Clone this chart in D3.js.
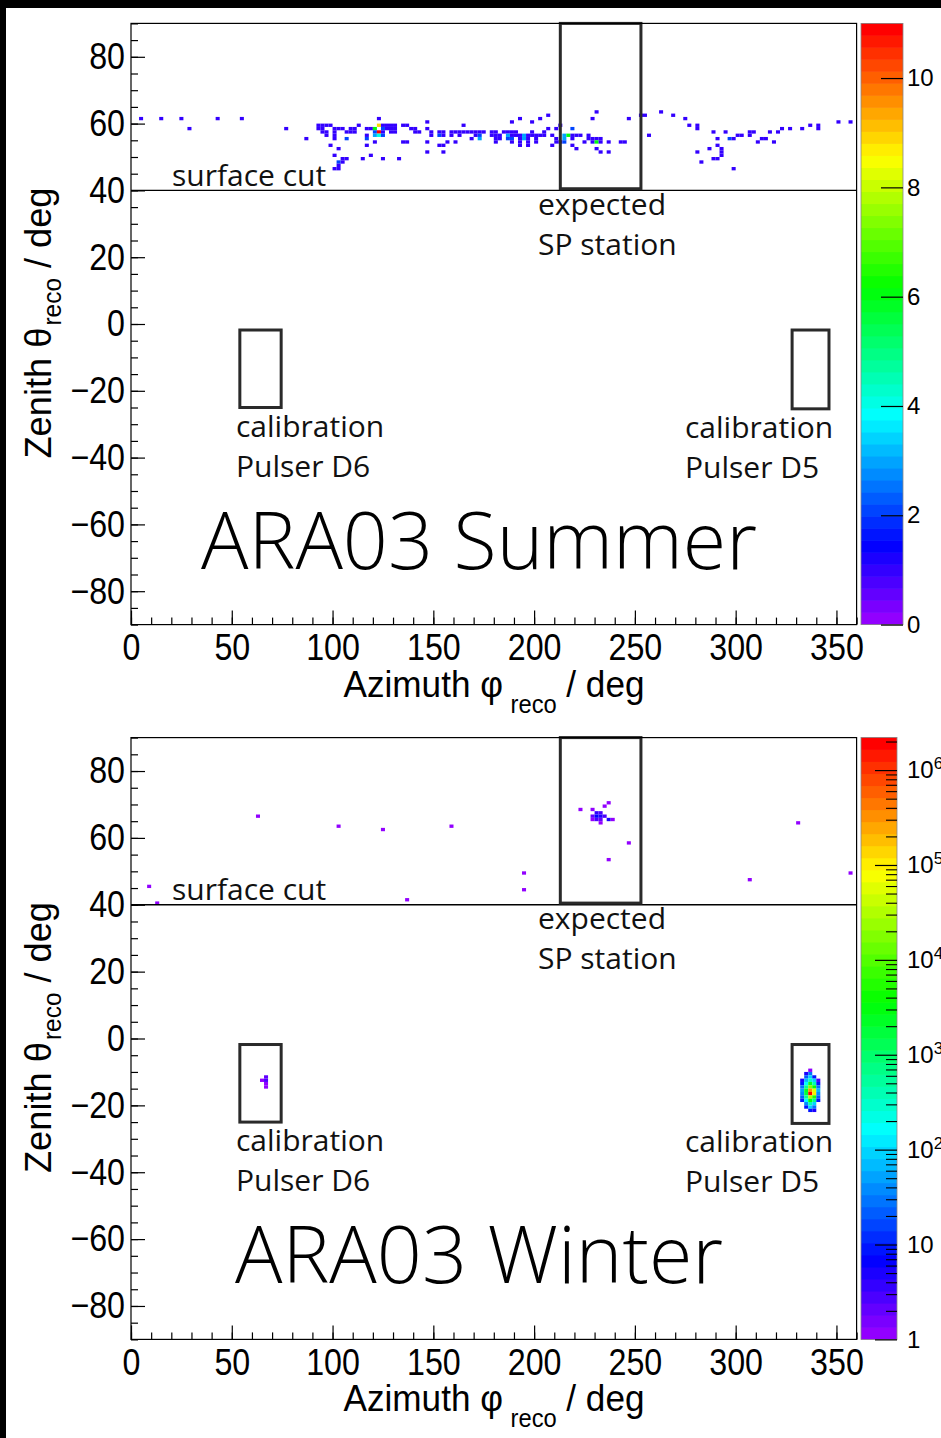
<!DOCTYPE html>
<html><head><meta charset="utf-8">
<script src="https://cdn.jsdelivr.net/npm/d3@7"></script>
<style>html,body{margin:0;padding:0;background:#fff;} svg{display:block}</style>
</head><body><svg id="c" width="941" height="1438"></svg>
<script>
// ---------------- DATA ----------------
const xTickValues = [0, 50, 100, 150, 200, 250, 300, 350];
const yTickValues = [-80, -60, -40, -20, 0, 20, 40, 60, 80];
const panelTitles = ["ARA03 Summer", "ARA03 Winter"];
const surfaceCut = 40;
// boxes in data units [phiMin, phiMax, thetaMin, thetaMax]
const spStationBox = [213, 253, 40.5, 90];
const pulserD6Box = [54, 74.5, -25, -1.8];
const pulserD5Box = [328, 346.3, -25.4, -1.8];
const summerZRange = [0, 11];
const winterZRange = [1, 2.2e6];
const summerColorTicks = [0, 2, 4, 6, 8, 10];
const winterColorTicks = [1, 10, 100, 1e3, 1e4, 1e5, 1e6];
// bins: [phi lower edge (2 deg bins), theta lower edge (1 deg bins), count]
const summerBins = [
 [4,61,1],[14,61,1],[24,61,1],[28,58,1],[42,61,1],[54,61,1],[76,58,1],[86,55,1],
 [122,61,1],[146,60,1],
 [92,59,1],[94,59,1],[96,59,1],[98,59,1],[112,59,1],[122,59,9],[124,59,1],[126,59,1],[128,59,1],[130,59,1],[134,59,1],[136,59,1],[164,59,1],
 [92,58,1],[94,58,1],[100,58,1],[102,58,1],[104,58,1],[108,58,1],[110,58,1],[116,58,1],[118,58,1],[120,58,6],[124,58,2],[126,58,1],[128,58,1],[130,58,1],[138,58,1],[140,58,1],[146,58,1],
 [94,57,1],[96,57,1],[100,57,1],[106,57,1],[108,57,1],[110,57,1],[120,57,2],[122,57,11],[124,57,1],[128,57,1],[130,57,1],[140,57,1],[142,57,1],[148,57,1],[152,57,1],[154,57,1],[158,57,1],[160,57,1],[162,57,1],[164,57,1],[166,57,1],[170,57,1],
 [96,56,1],[100,56,1],[116,56,1],[120,56,3],[122,56,4],[124,56,2],[148,56,1],[152,56,2],[154,56,1],[158,56,1],[162,56,1],
 [100,55,1],[106,55,2],[116,55,2],
 [120,54,1],[134,54,1],[136,54,1],[146,54,1],[156,54,1],[160,54,1],
 [98,53,1],[116,53,1],[152,53,1],[154,53,1],
 [102,52,1],[146,51,1],[154,51,1],[100,50,1],[118,50,1],
 [104,49,1],[106,49,1],[114,49,1],[124,49,1],[132,49,1],
 [102,48,2],[104,48,1],[102,47,1],[100,46,1],[102,46,1],
 [230,63,1],[206,62,1],[252,62,1],[254,62,1],[192,61,1],[202,61,1],[228,61,1],[246,61,1],[188,60,1],[198,60,1],[212,59,1],
 [206,58,1],[210,58,1],[218,58,2],
 [168,57,1],[172,57,1],[174,57,1],[178,57,1],[180,57,1],[184,57,1],[186,57,1],[188,57,1],[190,57,1],[198,57,1],[204,57,1],
 [170,56,1],[172,56,2],[178,56,1],[180,56,1],[182,56,1],[186,56,3],[188,56,1],[190,56,1],[192,56,1],[194,56,3],[196,56,1],[198,56,1],[200,56,1],[202,56,1],[204,56,1],[208,56,1],[214,56,3],[216,56,6],[218,56,1],[220,56,1],[222,56,1],[226,56,1],[256,56,1],
 [168,55,1],[172,55,3],[180,55,1],[182,55,1],[186,55,2],[188,55,2],[192,55,1],[194,55,3],[196,55,1],[200,55,1],[210,55,1],[214,55,3],[218,55,1],[226,55,1],[228,55,1],[230,55,1],[232,55,1],
 [180,54,1],[188,54,1],[192,54,1],[196,54,1],[200,54,1],[210,54,1],[212,54,1],[214,54,2],[224,54,1],[228,54,1],[230,54,6],[232,54,1],[236,54,1],[242,54,1],[244,54,1],
 [192,53,1],[196,53,1],[208,53,1],[218,53,1],[220,52,1],[230,52,1],[232,51,1],[236,51,1],
 [262,63,1],[268,62,1],[274,61,1],[276,59,1],[280,59,1],[280,58,1],[288,57,1],[294,57,1],[290,55,1],[290,53,1],[286,52,1],[292,52,1],[292,51,1],[292,50,1],[288,49,1],[290,49,1],[280,51,1],[282,48,1],[298,46,1],
 [296,55,2],[298,55,1],[300,56,1],[302,56,1],[306,56,1],[306,57,1],[308,57,1],[310,54,1],[312,55,1],[314,55,1],[316,57,1],[318,54,1],[320,57,1],[322,58,1],[326,58,1],[332,58,1],[336,59,1],[340,59,1],[340,58,1],[350,60,1],[356,60,1]
];
const winterBins = [
 [8,45,1],[12,40,1],[62,66,1],[102,63,1],[124,62,1],[158,63,1],[136,41,1],[194,49,1],[194,44,1],
 [222,68,1],[228,68,1],[234,69,1],[236,70,1],
 [230,67,4],[232,67,3],[228,66,2],[230,66,6],[232,66,5],[234,66,3],[228,65,1],[230,65,3],[232,65,2],[236,65,5],[238,65,1],[232,64,1],
 [246,58,1],[236,53,1],[306,47,1],[330,64,1],[356,49,1],
 [66,-12,2],[64,-13,1],[66,-13,3],[66,-14,1],[66,-15,1],
 [336,-10,1],
 [334,-11,5],[336,-11,30],
 [334,-12,20],[336,-12,100],[338,-12,10],
 [332,-13,5],[334,-13,60],[336,-13,300],[338,-13,80],[340,-13,3],
 [332,-14,10],[334,-14,150],[336,-14,2000],[338,-14,400],[340,-14,10],
 [332,-15,30],[334,-15,600],[336,-15,20000],[338,-15,3000],[340,-15,30],
 [332,-16,50],[334,-16,2000],[336,-16,300000],[338,-16,50000],[340,-16,60],
 [332,-17,40],[334,-17,1500],[336,-17,2200000],[338,-17,100000],[340,-17,40],
 [332,-18,20],[334,-18,500],[336,-18,30000],[338,-18,5000],[340,-18,20],
 [332,-19,8],[334,-19,150],[336,-19,3000],[338,-19,800],[340,-19,8],
 [334,-20,40],[336,-20,400],[338,-20,100],
 [334,-21,10],[336,-21,80],[338,-21,30],
 [336,-22,10],[338,-22,5]
];

// ---------------- LAYOUT ----------------
const svg = d3.select("#c");
const W = 941, H = 1438;
const plotL = 131, plotR = 856.6;
const panels = [
  {top: 23.4, bottom: 624.6, off: 0, bins: summerBins, log: false, z: summerZRange, cbR: 903},
  {top: 737.6, bottom: 1339.4, off: 714.4, bins: winterBins, log: true, z: winterZRange, cbR: 897}
];
const NCOL = 50;
const palette = d3.range(NCOL).map(i => d3.hsl(280 - (i + 1) * (280 / NCOL), 1, 0.5).formatHex());
const x = d3.scaleLinear().domain([0, 360]).range([plotL, plotR]);
const tickFont = "'Liberation Sans', Arial, Helvetica, sans-serif";
const annFont = "'Open Sans', 'Noto Sans', sans-serif";
const SX = 0.87;
const TSX = 0.95;

svg.append("rect").attr("width", W).attr("height", H).attr("fill", "#fff");

panels.forEach((p, pi) => {
  const y = d3.scaleLinear().domain([-90, 90]).range([p.bottom, p.top]);
  const g = svg.append("g");
  const zlo = p.log ? Math.log10(p.z[0]) : p.z[0];
  const zhi = p.log ? Math.log10(p.z[1]) : p.z[1];
  const colorOf = c => {
    const v = p.log ? Math.log10(c) : c;
    let lvl = Math.floor(0.01 + (v - zlo) / (zhi - zlo) * NCOL);
    lvl = Math.max(0, Math.min(NCOL - 1, lvl));
    return palette[lvl];
  };
  // bins
  g.append("g").selectAll("rect").data(p.bins).join("rect")
    .attr("x", d => x(d[0]))
    .attr("width", d => x(d[0] + 2) - x(d[0]))
    .attr("y", d => y(d[1] + 1))
    .attr("height", d => y(d[1]) - y(d[1] + 1))
    .attr("fill", d => colorOf(d[2]));

  // surface cut line
  g.append("line").attr("x1", plotL).attr("x2", plotR)
    .attr("y1", y(surfaceCut)).attr("y2", y(surfaceCut))
    .attr("stroke", "#000").attr("stroke-width", 1.3);

  // boxes
  [spStationBox, pulserD6Box, pulserD5Box].forEach(b => {
    g.append("rect")
      .attr("x", x(b[0])).attr("width", x(b[1]) - x(b[0]))
      .attr("y", y(b[3])).attr("height", y(b[2]) - y(b[3]))
      .attr("fill", "none").attr("stroke", "#2a2a2a").attr("stroke-width", 3);
  });

  // frame
  g.append("rect").attr("x", plotL).attr("y", p.top)
    .attr("width", plotR - plotL).attr("height", p.bottom - p.top)
    .attr("fill", "none").attr("stroke", "#000").attr("stroke-width", 1.2);

  // axes
  const styleTicks = sel => {
    sel.select(".domain").remove();
    sel.selectAll("line").attr("stroke", "#000").attr("stroke-width", 1.2);
  };
  const xMinor = g.append("g").attr("transform", `translate(0,${p.bottom})`)
    .call(d3.axisBottom(x).tickValues(d3.range(0, 361, 10)).tickSize(-7).tickFormat(""));
  styleTicks(xMinor);
  const xMajor = g.append("g").attr("transform", `translate(0,${p.bottom})`)
    .call(d3.axisBottom(x).tickValues(xTickValues).tickSize(-14).tickSizeOuter(0).tickPadding(9).tickFormat(d3.format("d")));
  styleTicks(xMajor);
  xMajor.selectAll("text").attr("font-family", tickFont).attr("font-size", 37).attr("fill", "#000")
    .attr("transform", `scale(${SX},1)`).attr("x", 0);

  const yMinor = g.append("g").attr("transform", `translate(${plotL},0)`)
    .call(d3.axisLeft(y).tickValues(d3.range(-90, 91, 5)).tickSize(-7).tickFormat(""));
  styleTicks(yMinor);
  const yMajor = g.append("g").attr("transform", `translate(${plotL},0)`)
    .call(d3.axisLeft(y).tickValues(yTickValues).tickSize(-14).tickSizeOuter(0).tickPadding(6).tickFormat(d3.format("d")));
  styleTicks(yMajor);
  yMajor.selectAll("text").attr("font-family", tickFont).attr("font-size", 37).attr("fill", "#000")
    .attr("x", -6 / SX).attr("transform", `scale(${SX},1)`);

  // axis titles
  const xt = g.append("text").attr("x", 0).attr("y", 0)
    .attr("text-anchor", "middle").attr("font-family", tickFont).attr("font-size", 37)
    .attr("transform", `translate(494,${p.off + 697}) scale(${TSX},1)`);
  xt.append("tspan").text("Azimuth φ");
  xt.append("tspan").attr("font-size", 25).attr("dy", 16).attr("dx", 8).text("reco");
  xt.append("tspan").attr("dy", -16).attr("dx", 10).text("/ deg");

  const ycy = y(0) - 1;
  const yt = g.append("text").attr("text-anchor", "middle").attr("font-family", tickFont).attr("font-size", 37)
    .attr("transform", `translate(51,${ycy}) rotate(-90) scale(0.98,1)`);
  yt.append("tspan").text("Zenith θ");
  yt.append("tspan").attr("font-size", 25).attr("dy", 10).attr("dx", 2).text("reco");
  yt.append("tspan").attr("dy", -10).attr("dx", 10).text("/ deg");

  // colour bar
  const cbL = 861, cbR = p.cbR;
  const bandH = (p.bottom - p.top) / NCOL;
  g.append("g").selectAll("rect").data(palette).join("rect")
    .attr("x", cbL).attr("width", cbR - cbL)
    .attr("y", (d, i) => p.bottom - (i + 1) * bandH - 0.3)
    .attr("height", bandH + 0.6)
    .attr("fill", d => d);
  g.append("rect").attr("x", cbL).attr("y", p.top).attr("width", cbR - cbL).attr("height", p.bottom - p.top)
    .attr("fill", "none").attr("stroke", "#888").attr("stroke-width", 0.8);

  if (!p.log) {
    const zs = d3.scaleLinear().domain(p.z).range([p.bottom, p.top]);
    const za = g.append("g").attr("transform", `translate(${cbR},0)`)
      .call(d3.axisRight(zs).tickValues(summerColorTicks).tickSize(-22).tickSizeOuter(0).tickPadding(4).tickFormat(d3.format("d")));
    za.select(".domain").remove();
    za.selectAll("line").attr("stroke", "#000").attr("stroke-width", 1.2);
    za.selectAll("text").attr("font-family", tickFont).attr("font-size", 24).attr("fill", "#000");
  } else {
    const zs = d3.scaleLog().domain(p.z).range([p.bottom, p.top]);
    const minorVals = [];
    for (let e = 0; e <= 6; e++) for (let m = 2; m <= 9; m++) { const v = m * Math.pow(10, e); if (v <= p.z[1]) minorVals.push(v); }
    const zmin = g.append("g").attr("transform", `translate(${cbR},0)`)
      .call(d3.axisRight(zs).tickValues(minorVals).tickSize(-11).tickFormat(""));
    zmin.select(".domain").remove();
    zmin.selectAll("line").attr("stroke", "#000").attr("stroke-width", 1.1);
    const za = g.append("g").attr("transform", `translate(${cbR},0)`)
      .call(d3.axisRight(zs).tickValues(winterColorTicks).tickSize(-22).tickSizeOuter(0).tickPadding(10).tickFormat(""));
    za.select(".domain").remove();
    za.selectAll("line").attr("stroke", "#000").attr("stroke-width", 1.2);
    za.selectAll("text").attr("font-family", tickFont).attr("font-size", 24).attr("fill", "#000")
      .each(function(d) {
        const t = d3.select(this);
        const e = Math.round(Math.log10(d));
        if (e === 0) t.append("tspan").text("1");
        else if (e === 1) t.append("tspan").text("10");
        else {
          t.append("tspan").text("10");
          t.append("tspan").attr("font-size", 17).attr("dy", -9).text(String(e));
        }
      });
  }

  // annotations
  const ann = (tx, ty, s, size, weight) => g.append("text").attr("x", tx).attr("y", p.off + ty)
    .attr("font-family", annFont).attr("font-size", size).attr("font-weight", weight || 400)
    .attr("fill", "#111").text(s);
  ann(172, 186, "surface cut", 30);
  ann(538, 215, "expected", 30);
  ann(538, 255, "SP station", 30);
  ann(236, 437, "calibration", 30);
  ann(236, 477, "Pulser D6", 30);
  ann(685, 438, "calibration", 30);
  ann(685, 478, "Pulser D5", 30);
  g.append("text").attr("x", 479).attr("y", p.off + 569).attr("text-anchor", "middle")
    .attr("font-family", annFont).attr("font-size", 79).attr("font-weight", 300)
    .attr("fill", "#000").text(panelTitles[pi]);
});

// black edges of the scanned figure
svg.append("rect").attr("x", 0).attr("y", 0).attr("width", W).attr("height", 8).attr("fill", "#000");
svg.append("rect").attr("x", 0).attr("y", 0).attr("width", 6).attr("height", H).attr("fill", "#000");
</script></body></html>
